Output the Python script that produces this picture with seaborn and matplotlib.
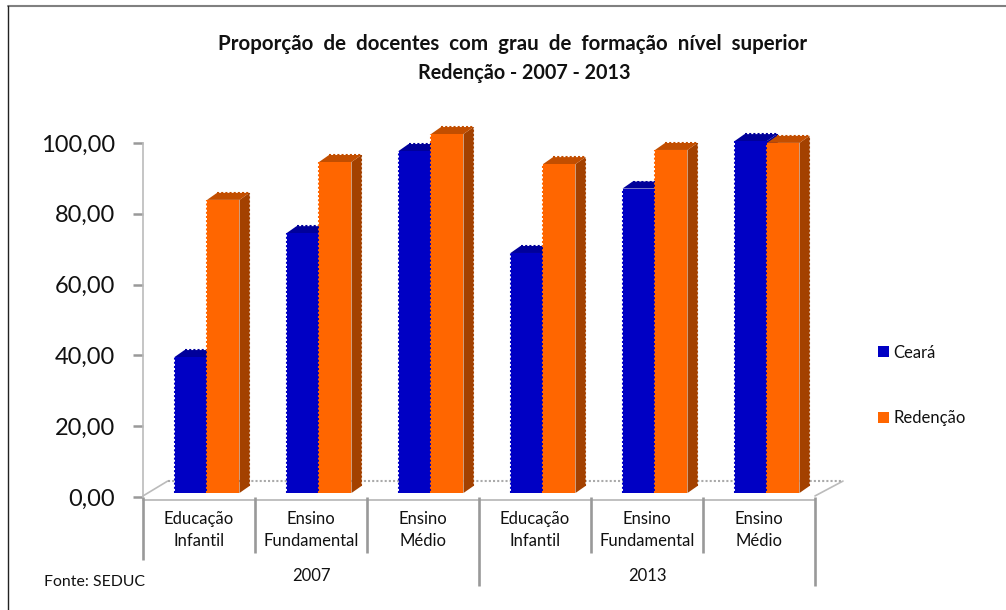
import matplotlib
matplotlib.use("Agg")
import matplotlib.pyplot as plt
import pandas as pd
import seaborn as sns
from matplotlib.lines import Line2D
from matplotlib.patches import Polygon

W, H = 1006, 610

# values
niveis = ["Educação\nInfantil", "Ensino\nFundamental", "Ensino\nMédio",
          "Educação\nInfantil", "Ensino\nFundamental", "Ensino\nMédio"]
anos = ["2007", "2013"]
ceara = [38.4, 73.4, 96.6, 67.8, 86.0, 99.4]
redencao = [82.8, 93.5, 101.4, 92.9, 96.9, 98.9]
yticks = [0, 20, 40, 60, 80, 100]

sns.set_theme(style="white")
plt.rcParams["font.family"] = ["Lato", "DejaVu Sans"]

df = pd.DataFrame({
    "pos": list(range(6)) * 2,
    "valor": ceara + redencao,
    "serie": ["Ceará"] * 6 + ["Redenção"] * 6,
})
cores = {"Ceará": "#0000C4", "Redenção": "#FF6600"}
laterais = {"Ceará": "#00009A", "Redenção": "#A34100"}
topos = {"Ceará": "#00009A", "Redenção": "#C24E00"}


def px_axes(fig, x0, y_top, x1, y_bottom, **kw):
    return fig.add_axes([x0 / W, 1 - y_bottom / H, (x1 - x0) / W, (y_bottom - y_top) / H], **kw)


fig = plt.figure(figsize=(W / 100, H / 100), dpi=100, facecolor="white")

# outer frame, only the top and left edges show
fig.add_artist(Line2D([8 / W, 1], [1 - 6 / H, 1 - 6 / H], transform=fig.transFigure, color="#808080", lw=1.5))
fig.add_artist(Line2D([8 / W, 8 / W], [0, 1 - 6 / H], transform=fig.transFigure, color="#222222", lw=1))

# axis with the ticks, 0 at the front corner of the floor
ax = px_axes(fig, 143, 143, 815, 497)
ax.set_xlim(-0.5, 5.5)
ax.set_ylim(0, 100)
ax.set_yticks(yticks)
ax.set_yticklabels([f"{v:.2f}".replace(".", ",") for v in yticks], fontsize=17, color="#111111")
ax.tick_params(axis="y", length=7, width=1.8, color="#999999", pad=13, left=True)
ax.set_xticks([])
for s in ["top", "right", "bottom"]:
    ax.spines[s].set_visible(False)
ax.spines["left"].set_color("#bbbbbb")
ax.spines["left"].set_linewidth(1.2)
ax.patch.set_alpha(0)

sep = dict(color="#999999", clip_on=False, solid_capstyle="butt")
gray_t = ax.get_xaxis_transform()
ax.plot([-0.5, 5.5], [-0.008, -0.008], transform=gray_t, lw=1.3, color="#bbbbbb", clip_on=False)
# floor, drawn in axes coordinates
ax.plot([-0.5, -0.28], [0.003, 0.045], transform=gray_t, lw=1.2, color="#bbbbbb", clip_on=False)
ax.plot([5.5, 5.75], [0.003, 0.045], transform=gray_t, lw=1.2, color="#bbbbbb", clip_on=False)
ax.plot([-0.28, 5.75], [0.045, 0.045], transform=gray_t, lw=1.5, color="#aaaaaa",
        linestyle=(0, (1, 1)), clip_on=False)

# group separators and labels under the axis
for i, nome in enumerate(niveis):
    ax.text(i, -0.093, nome, transform=gray_t, ha="center", va="center", fontsize=12,
            color="#111111", linespacing=1.42)
fundo = {0: -0.178, 3: -0.25, 6: -0.25}
for b in range(7):
    ax.plot([b - 0.5, b - 0.5], [0, fundo.get(b, -0.158)], transform=gray_t, lw=1.9, **sep)
for i, ano in enumerate(anos):
    ax.text(1 + 3 * i, -0.222, ano, transform=gray_t, ha="center", va="center", fontsize=12,
            color="#111111")

# bars, their base sits 4px above the tick and 8px to the right
ax_b = px_axes(fig, 151, 139, 823, 493)
sns.barplot(data=df, x="pos", y="valor", hue="serie", palette=cores, width=0.58, gap=0,
            saturation=1, ax=ax_b, native_scale=True, legend=True, linewidth=0)
ax_b.set_xlim(-0.5, 5.5)
ax_b.set_ylim(0, 100)
ax_b.axis("off")
ax_b.patch.set_alpha(0)

# third dimension, built from the drawn bars
dx = 10 * 6 / 672
dy = 7 * 100 / 354
serrilha = dict(lw=1.5, linestyle=(0, (1, 1)), clip_on=False)
for cont, nome in zip(ax_b.containers, ["Ceará", "Redenção"]):
    z = 1.5 if nome == "Ceará" else 2.1
    for bar in cont:
        x0, x1 = bar.get_x(), bar.get_x() + bar.get_width()
        h = bar.get_height()
        ax_b.add_patch(Polygon([(x1, 0), (x1 + dx, dy), (x1 + dx, h + dy), (x1, h)],
                               facecolor=laterais[nome], edgecolor="none", clip_on=False, zorder=z))
        ax_b.add_patch(Polygon([(x0, h), (x0 + dx, h + dy), (x1 + dx, h + dy), (x1, h)],
                               facecolor=topos[nome], edgecolor="none", clip_on=False, zorder=z))
        bar.set_zorder(2 if nome == "Ceará" else 2.2)
        bar.set_clip_on(False)
        # rough dotted edges of the original rendering
        ax_b.plot([x1 + dx, x1 + dx], [dy, h + dy], color=laterais[nome], zorder=z, **serrilha)
        ax_b.plot([x0 + dx, x1 + dx], [h + dy, h + dy], color=topos[nome], zorder=z, **serrilha)
        ax_b.plot([x0, x0], [0, h], color=cores[nome], zorder=z + 0.1, **serrilha)

handles, labels = ax_b.get_legend_handles_labels()
ax_b.get_legend().remove()
fig.legend(handles, labels, loc="center left", bbox_to_anchor=(863 / W, 1 - 385.5 / H), frameon=False,
           fontsize=12, labelspacing=2.98, handlelength=0.68, handleheight=0.65, handletextpad=0.26,
           labelcolor="#111111")

fig.text(513 / W, 1 - 44 / H, "Proporção  de  docentes  com  grau  de  formação  nível  superior",
         ha="center", va="center", fontsize=14.8, fontweight="bold", color="#111111")
fig.text(524.5 / W, 1 - 73 / H, "Redenção - 2007 - 2013",
         ha="center", va="center", fontsize=14.2, fontweight="bold", color="#111111")
fig.text(44 / W, 1 - 582 / H, "Fonte: SEDUC", ha="left", va="center", fontsize=11.4, color="#111111")

fig.savefig("out.png", dpi=100)
